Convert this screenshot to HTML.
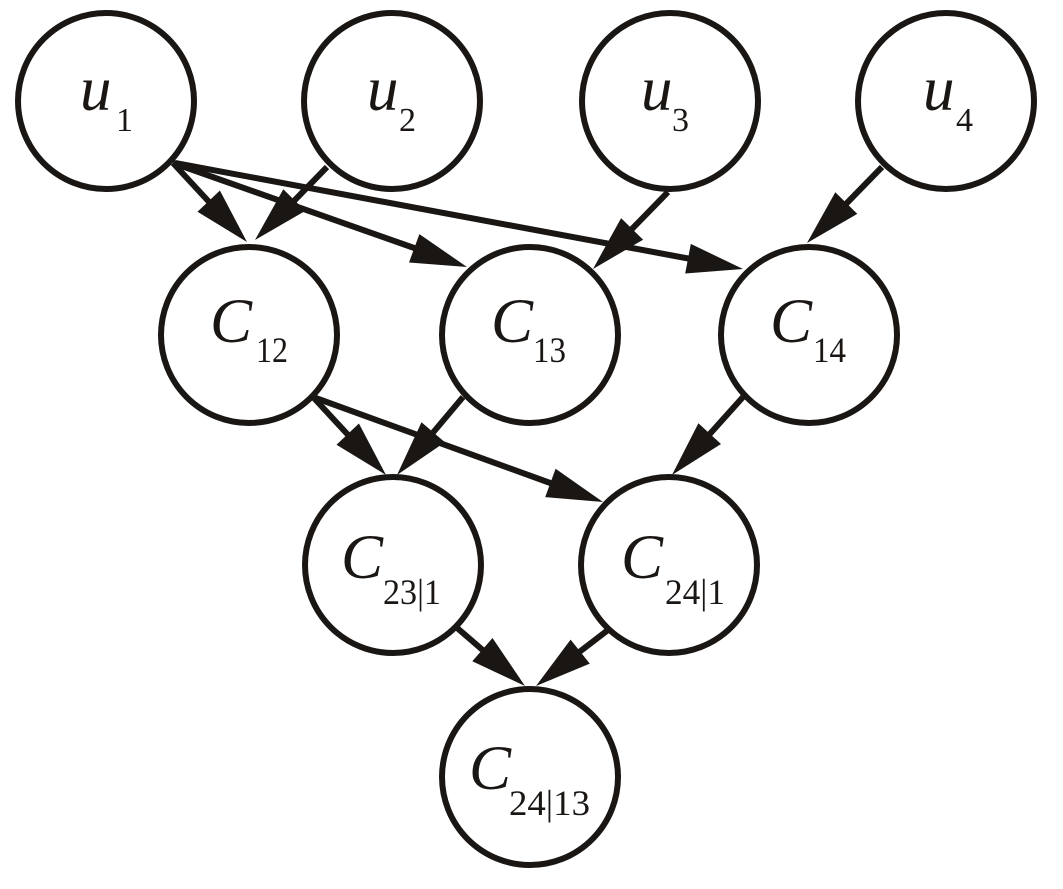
<!DOCTYPE html>
<html>
<head>
<meta charset="utf-8">
<style>
  html, body { margin: 0; padding: 0; background: #ffffff; }
  svg { display: block; }
  .n { fill: #ffffff; stroke: #1a1614; stroke-width: 6; }
  .e { stroke: #1a1614; stroke-width: 6; fill: none; }
  .a { fill: #1a1614; stroke: none; }
  text { font-family: "Liberation Serif", "Times New Roman", Times, "DejaVu Serif", serif; fill: #1a1614; }
  .v { font-style: italic; font-size: 63px; }
  .s { font-style: normal; font-size: 36px; }
  .t { font-style: normal; font-size: 34px; }
</style>
</head>
<body>
<svg width="1063" height="889" viewBox="0 0 1063 889" xmlns="http://www.w3.org/2000/svg">
  <rect x="0" y="0" width="1063" height="889" fill="#ffffff"/>

  <!-- edges -->
  <line class="e" x1="173" y1="163" x2="211" y2="204"/>
  <polygon class="a" points="247,242 197.5,211.7 219.9,190.5"/>

  <line class="e" x1="327" y1="167" x2="292" y2="203"/>
  <polygon class="a" points="255,240 283.3,189.3 305.3,210.9"/>

  <line class="e" x1="173" y1="163" x2="417" y2="249"/>
  <polygon class="a" points="467,267 409.0,262.5 419.4,234.1"/>

  <line class="e" x1="175" y1="163" x2="691" y2="259"/>
  <polygon class="a" points="743,269 685.2,273.5 690.8,243.9"/>

  <line class="e" x1="668" y1="192" x2="630" y2="231"/>
  <polygon class="a" points="593,269 621.1,218.1 643.1,239.7"/>

  <line class="e" x1="882" y1="167" x2="844" y2="206"/>
  <polygon class="a" points="807,243 835.3,192.3 857.3,213.9"/>

  <line class="e" x1="313" y1="397" x2="350" y2="437"/>
  <polygon class="a" points="386,475 336.5,444.7 358.9,423.5"/>

  <line class="e" x1="463" y1="397" x2="431" y2="435"/>
  <polygon class="a" points="397,475 421.5,422.3 444.9,442.3"/>

  <line class="e" x1="313" y1="397" x2="553" y2="484"/>
  <polygon class="a" points="603,502 545.2,497.1 555.6,468.7"/>

  <line class="e" x1="743" y1="397" x2="708" y2="436"/>
  <polygon class="a" points="672,475 698.4,423.2 721.0,444.0"/>

  <line class="e" x1="456" y1="627" x2="485" y2="652"/>
  <polygon class="a" points="525,686 472.3,661.2 492.5,638.0"/>

  <line class="e" x1="608" y1="630" x2="578" y2="653"/>
  <polygon class="a" points="536,686 570.6,639.6 589.8,663.6"/>

  <!-- nodes -->
  <circle class="n" cx="106" cy="101" r="88"/>
  <circle class="n" cx="392" cy="101" r="88"/>
  <circle class="n" cx="670" cy="101" r="88"/>
  <circle class="n" cx="946" cy="101" r="88"/>

  <circle class="n" cx="249" cy="335" r="88"/>
  <circle class="n" cx="530" cy="335" r="88"/>
  <circle class="n" cx="809" cy="335" r="88"/>

  <circle class="n" cx="393" cy="565" r="88"/>
  <circle class="n" cx="669" cy="565" r="88"/>

  <circle class="n" cx="530" cy="777" r="88"/>

  <!-- labels -->
  <text class="v" x="80" y="110">u</text><text class="t" x="116" y="131">1</text>
  <text class="v" x="367" y="110">u</text><text class="t" x="399" y="131">2</text>
  <text class="v" x="641" y="110">u</text><text class="t" x="672" y="131">3</text>
  <text class="v" x="923" y="110">u</text><text class="t" x="956" y="131">4</text>

  <text class="v" x="210" y="342">C</text><text class="s" x="256" y="362" textLength="32" lengthAdjust="spacingAndGlyphs">12</text>
  <text class="v" x="491" y="342">C</text><text class="s" x="533" y="362" textLength="33" lengthAdjust="spacingAndGlyphs">13</text>
  <text class="v" x="770" y="342">C</text><text class="s" x="813" y="362" textLength="33" lengthAdjust="spacingAndGlyphs">14</text>

  <text class="v" x="341" y="578">C</text><text class="s" x="383" y="604" textLength="58" lengthAdjust="spacingAndGlyphs">23|1</text>
  <text class="v" x="621" y="578">C</text><text class="s" x="665" y="604" textLength="60" lengthAdjust="spacingAndGlyphs">24|1</text>

  <text class="v" x="469" y="789">C</text><text class="s" x="509" y="815" textLength="81" lengthAdjust="spacingAndGlyphs">24|13</text>
</svg>
</body>
</html>
